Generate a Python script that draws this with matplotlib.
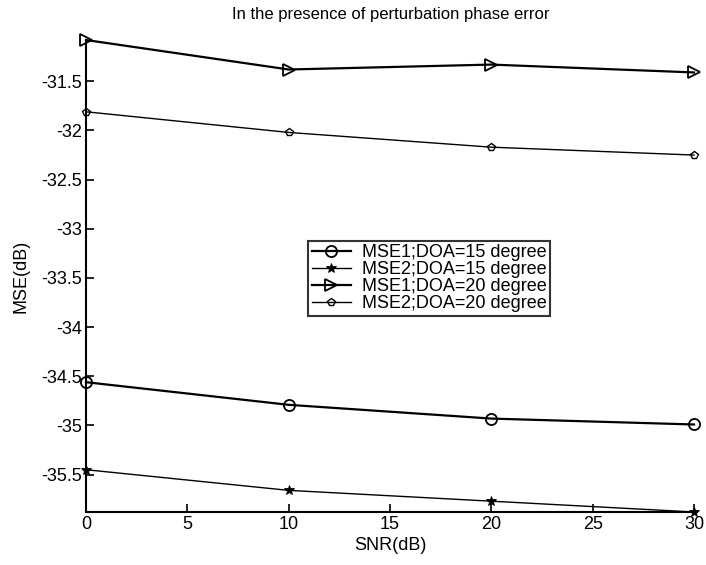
import matplotlib
matplotlib.use("Agg")
import matplotlib.pyplot as plt

snr = [0, 10, 20, 30]
mse1_doa15 = [-34.56, -34.79, -34.93, -34.99]
mse2_doa15 = [-35.45, -35.66, -35.77, -35.88]
mse1_doa20 = [-31.08, -31.38, -31.33, -31.41]
mse2_doa20 = [-31.81, -32.02, -32.17, -32.25]
labels = ["MSE1;DOA=15 degree", "MSE2;DOA=15 degree",
          "MSE1;DOA=20 degree", "MSE2;DOA=20 degree"]
xticks = [0, 5, 10, 15, 20, 25, 30]
yticks = [-35.5, -35, -34.5, -34, -33.5, -33, -32.5, -32, -31.5]

plt.rcParams['font.family'] = ['Liberation Sans', 'DejaVu Sans']

W, H = 706, 565
fig = plt.figure(figsize=(W/100, H/100), dpi=100)
ax = fig.add_axes([86/W, 1 - 512/H, (694-86)/W, (512-40)/H])

ax.plot(snr, mse1_doa15, color='black', lw=1.6, marker='o', ms=8, mfc='none', mew=1.3, label=labels[0])
ax.plot(snr, mse2_doa15, color='black', lw=1.0, marker='*', ms=7, mfc='black', mew=0.6, label=labels[1])
ax.plot(snr, mse1_doa20, color='black', lw=1.6, marker='>', ms=8, mfc='none', mew=1.3, label=labels[2])
ax.plot(snr, mse2_doa20, color='black', lw=1.0, marker='p', ms=6, mfc='none', mew=1.0, label=labels[3])

ax.set_xlim(0, 30)
ax.set_ylim(min(mse2_doa15), max(mse1_doa20))
ax.set_xticks(xticks)
ax.set_xticklabels([str(t) for t in xticks])
ax.set_yticks(yticks)
ax.set_yticklabels(['%g' % t for t in yticks])
ax.tick_params(direction='in', length=6, width=1.2, labelsize=13, top=False, right=False, pad=3)
for s in ['top', 'right']:
    ax.spines[s].set_visible(False)
for s in ['left', 'bottom']:
    ax.spines[s].set_linewidth(1.5)
for line in ax.get_lines():
    line.set_clip_on(False)

fig.text(391/W, 1 - 14/H, "In the presence of perturbation phase error",
         fontsize=12, ha='center', va='center')
ax.set_xlabel("SNR(dB)", fontsize=13, labelpad=3)
ax.set_ylabel("MSE(dB)", fontsize=13, labelpad=8)

leg = ax.legend(loc='upper left', bbox_to_anchor=(0.365, 0.575), fontsize=13,
                frameon=True, fancybox=False, edgecolor='black', handlelength=2.2,
                borderpad=0.2, labelspacing=0.0, handletextpad=0.6, borderaxespad=0)
leg.get_frame().set_linewidth(1.5)

fig.savefig("out.png", dpi=100)
